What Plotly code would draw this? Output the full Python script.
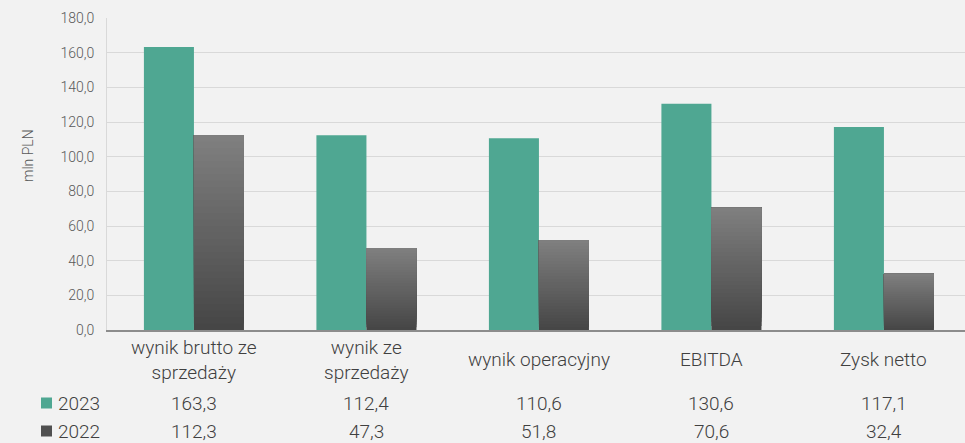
import plotly.graph_objects as go

categories = ['wynik brutto ze sprzedaży', 'wynik ze sprzedaży', 'wynik operacyjny', 'EBITDA', 'Zysk netto']
category_labels = ['wynik brutto ze<br>sprzedaży', 'wynik ze<br>sprzedaży', 'wynik operacyjny', 'EBITDA', 'Zysk netto']
values_2023 = [163.3, 112.4, 110.6, 130.6, 117.1]
values_2022 = [112.3, 47.3, 51.8, 70.6, 32.4]

green = '#4fa792'
bg = '#f2f2f2'
text_col = '#404040'
font = dict(family='Roboto', weight=300, color=text_col)

fig = go.Figure()

fig.add_trace(go.Bar(x=categories, y=values_2023, name='2023', offsetgroup='2023',
                     marker=dict(color=green, line=dict(width=0))))

# 2022 bars: gradient dark at the bottom, lighter at the top.
# each slice runs from its base up to the top, later slices cover earlier ones (no seams)
n_steps = 30
dark, light = (0x45, 0x45, 0x45), (0x80, 0x80, 0x80)
for k in range(n_steps):
    t = (k + 0.5) / n_steps
    c = tuple(round(d + (l - d) * t) for d, l in zip(dark, light))
    fig.add_trace(go.Bar(x=categories,
                         y=[v * (n_steps - k) / n_steps for v in values_2022],
                         base=[v * k / n_steps for v in values_2022],
                         name='2022', offsetgroup='2022', showlegend=False,
                         marker=dict(color='rgb(%d,%d,%d)' % c, line=dict(width=0)),
                         hoverinfo='skip'))

# category labels and data table below the plot
row_23, row_22 = 403, 431
for cat, lab, v23, v22 in zip(categories, category_labels, values_2023, values_2022):
    fig.add_annotation(x=cat, y=-0.096, xref='x', yref='paper', text=lab, showarrow=False,
                       yanchor='middle', font=dict(size=19, **font))
    fig.add_annotation(x=cat, y=(330 - row_23) / 312, xref='x', yref='paper',
                       text=f'{v23:.1f}'.replace('.', ','),
                       showarrow=False, yanchor='middle', font=dict(size=19, **font))
    fig.add_annotation(x=cat, y=(330 - row_22) / 312, xref='x', yref='paper',
                       text=f'{v22:.1f}'.replace('.', ','),
                       showarrow=False, yanchor='middle', font=dict(size=19, **font))

for label, y, col in [('2023', row_23, green), ('2022', row_22, '#505050')]:
    fig.add_shape(type='rect', xref='paper', yref='paper',
                  x0=(41 - 107) / 858, x1=(52 - 107) / 858,
                  y0=(330 - y - 5.5) / 312, y1=(330 - y + 5.5) / 312,
                  fillcolor=col, line=dict(width=0))
    fig.add_annotation(x=(56 - 107) / 858, y=(330 - y) / 312, xref='paper', yref='paper',
                       text=label, showarrow=False, xanchor='left', yanchor='middle',
                       font=dict(size=19, **font))

fig.add_annotation(x=(18 - 107) / 858, y=(330 - 156) / 312, xref='paper', yref='paper',
                   text='mln PLN', textangle=-90, showarrow=False,
                   font=dict(size=14, family='Roboto', weight=300, color='#595959'))

fig.update_layout(
    width=965, height=443,
    margin=dict(l=107, r=0, t=18, b=113),
    paper_bgcolor=bg, plot_bgcolor=bg,
    barmode='group', bargap=0.42, bargroupgap=0,
    showlegend=False,
    separators=', ',
    font=dict(family='Roboto', color=text_col),
)
fig.update_xaxes(showticklabels=False, ticks='', showgrid=False, range=[-0.504, 4.47],
                 showline=True, linecolor='#8c8c8c', linewidth=1.5)
fig.update_yaxes(range=[0, 180], dtick=20, tickformat='.1f', ticks='',
                 showgrid=True, gridcolor='#d9d9d9', gridwidth=1.3,
                 showline=True, linecolor='#d9d9d9', linewidth=1,
                 zeroline=False, ticklabelstandoff=9,
                 tickfont=dict(size=14, family='Roboto', weight=300, color='#595959'))

fig.write_html('out.html', config={'displayModeBar': False},
               post_script="document.body.style.margin='0';")
